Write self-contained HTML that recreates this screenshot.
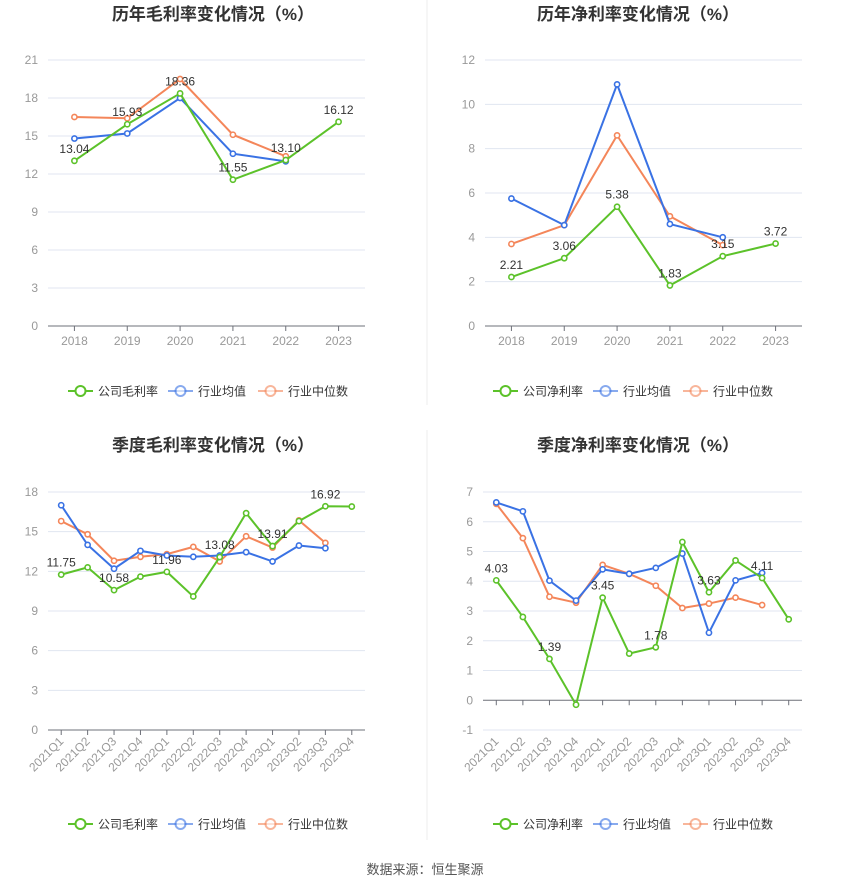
<!DOCTYPE html>
<html><head><meta charset="utf-8">
<style>
body{margin:0;background:#fff;font-family:"Liberation Sans","Noto Sans CJK SC",sans-serif;}
svg text{font-family:"Liberation Sans","Noto Sans CJK SC",sans-serif;}
</style></head>
<body>
<svg id="root" width="850" height="890" viewBox="0 0 850 890">
<line x1="427" y1="0" x2="427" y2="405" stroke="#eee"/>
<line x1="427" y1="430" x2="427" y2="840" stroke="#eee"/>
<text x="425" y="874" text-anchor="middle" font-size="13" fill="#555">数据来源：恒生聚源</text>
</svg>
<script>
const yearCats=["2018","2019","2020","2021","2022","2023"];
const qCats=["2021Q1","2021Q2","2021Q3","2021Q4","2022Q1","2022Q2","2022Q3","2022Q4","2023Q1","2023Q2","2023Q3","2023Q4"];
const c1Company=[13.04,15.93,18.36,11.55,13.10,16.12];
const c1Avg=[14.8,15.2,18.0,13.6,13.0];
const c1Median=[16.5,16.4,19.5,15.1,13.4];
const c1Ticks=[0,3,6,9,12,15,18,21];
const c2Company=[2.21,3.06,5.38,1.83,3.15,3.72];
const c2Avg=[5.75,4.55,10.9,4.6,4.0];
const c2Median=[3.7,4.55,8.6,4.95,3.65];
const c2Ticks=[0,2,4,6,8,10,12];
const c3Company=[11.75,12.3,10.58,11.6,11.96,10.1,13.08,16.4,13.91,15.8,16.92,16.9];
const c3Avg=[17.0,14.0,12.2,13.55,13.2,13.1,13.2,13.45,12.75,13.95,13.75];
const c3Median=[15.8,14.8,12.8,13.1,13.3,13.85,12.75,14.65,13.8,15.85,14.15];
const c3Ticks=[0,3,6,9,12,15,18];
const c4Company=[4.03,2.8,1.39,-0.15,3.45,1.57,1.78,5.32,3.63,4.7,4.11,2.72];
const c4Avg=[6.65,6.35,4.02,3.35,4.4,4.25,4.45,4.93,2.27,4.03,4.28];
const c4Median=[6.6,5.45,3.48,3.28,4.55,4.25,3.85,3.1,3.25,3.45,3.2];
const c4Ticks=[-1,0,1,2,3,4,5,6,7];

const NS="http://www.w3.org/2000/svg";
const root=document.getElementById('root');
const GREEN="#5cc22a",BLUE="#3a72e4",ORANGE="#f4865a";
function mk(tag,attrs,parent){const e=document.createElementNS(NS,tag);for(const k in attrs)e.setAttribute(k,attrs[k]);(parent||root).appendChild(e);return e;}

function chart(o){
  const g=mk('g',{});
  
  
  const yMin=o.ticks[0],yMax=o.ticks[o.ticks.length-1];
  const ys=v=>o.y0-(v-yMin)/(yMax-yMin)*(o.y0-o.y1);
  const n=o.cats.length,step=(o.xr-o.xl)/n;
  const xs=i=>o.xl+step*(i+0.5);
  const t=mk('text',{x:o.cx,y:o.ty,'text-anchor':'middle','font-size':17,'font-weight':'bold',fill:'#333'},g);
  t.textContent=o.title;
  
  
  o.ticks.forEach(v=>{
    const y=ys(v);
    if(v!==0){const l=mk('line',{x1:o.xl,x2:o.xr,y1:y,y2:y,stroke:'#e0e6f1'},g);
    
    }
    const tx=mk('text',{x:o.xl-10,y:y+4,'text-anchor':'end','font-size':12,fill:'#999'},g);
    tx.textContent=v;
    
    
  });
  const ax=mk('line',{x1:o.xl,x2:o.xr,y1:ys(0),y2:ys(0),stroke:'#6e7079'},g);
  
  
  o.cats.forEach((c,i)=>{
    const x=xs(i);
    mk('line',{x1:x,x2:x,y1:ys(0),y2:ys(0)+5,stroke:'#6e7079'},g);
    let tx;
    const by=o.y0;
    if(o.rot){tx=mk('text',{x:x+3,y:by+12,'text-anchor':'end','font-size':12,fill:'#999',transform:`rotate(-45 ${x+3} ${by+12})`},g);}
    else tx=mk('text',{x:x,y:by+19,'text-anchor':'middle','font-size':12,fill:'#999'},g);
    tx.textContent=c;
    
    
  });
  const series=[[o.median,ORANGE,'industry-median'],[o.avg,BLUE,'industry-average'],[o.comp,GREEN,'company']];
  series.forEach(([d,col,nm])=>{
    const p=mk('polyline',{points:d.map((v,i)=>xs(i)+','+ys(v)).join(' '),fill:'none',stroke:col,'stroke-width':2},g);
    
    
    d.forEach((v,i)=>{
      const c=mk('circle',{cx:xs(i),cy:ys(v),r:2.6,fill:'#fff',stroke:col,'stroke-width':1.6},g);
      
      
    });
  });
  o.comp.forEach((v,i)=>{
    if(o.labelEvery&&i%2!==0)return;
    const tx=mk('text',{x:xs(i),y:ys(v)-8,'text-anchor':'middle','font-size':12,fill:'#333'},g);
    tx.textContent=v.toFixed(2);
    
    
  });
  const items=[[o.leg1,GREEN],['行业均值',BLUE],['行业中位数',ORANGE]];
  const offs=[-145,-45,45];
  items.forEach(([lab,col],k)=>{
    const lx=o.cx+offs[k],ly=o.ly;
    const lg=mk('g',{},g);
    
    
    const a=k===0?1:0.6;
    mk('line',{x1:lx,x2:lx+25,y1:ly,y2:ly,stroke:col,'stroke-width':2,opacity:a},lg);
    mk('circle',{cx:lx+12.5,cy:ly,r:5,fill:'#fff',stroke:col,'stroke-width':2,opacity:a},lg);
    const tx=mk('text',{x:lx+30,y:ly+4.5,'font-size':12,fill:'#333'},lg);
    tx.textContent=lab;
  });
}
chart({name:'annual-gross-margin-chart',title:'历年毛利率变化情况（%）',cx:213,ty:20,xl:48,xr:365,y0:326,y1:60,ticks:c1Ticks,cats:yearCats,comp:c1Company,avg:c1Avg,median:c1Median,ly:391,leg1:'公司毛利率'});
chart({name:'annual-net-margin-chart',title:'历年净利率变化情况（%）',cx:638,ty:20,xl:485,xr:802,y0:326,y1:60,ticks:c2Ticks,cats:yearCats,comp:c2Company,avg:c2Avg,median:c2Median,ly:391,leg1:'公司净利率'});
chart({name:'quarterly-gross-margin-chart',title:'季度毛利率变化情况（%）',cx:213,ty:451,xl:48,xr:365,y0:730,y1:492,ticks:c3Ticks,cats:qCats,comp:c3Company,avg:c3Avg,median:c3Median,ly:824,leg1:'公司毛利率',rot:true,labelEvery:true});
chart({name:'quarterly-net-margin-chart',title:'季度净利率变化情况（%）',cx:638,ty:451,xl:483,xr:802,y0:730,y1:492,ticks:c4Ticks,cats:qCats,comp:c4Company,avg:c4Avg,median:c4Median,ly:824,leg1:'公司净利率',rot:true,labelEvery:true});
</script>
</body></html>
